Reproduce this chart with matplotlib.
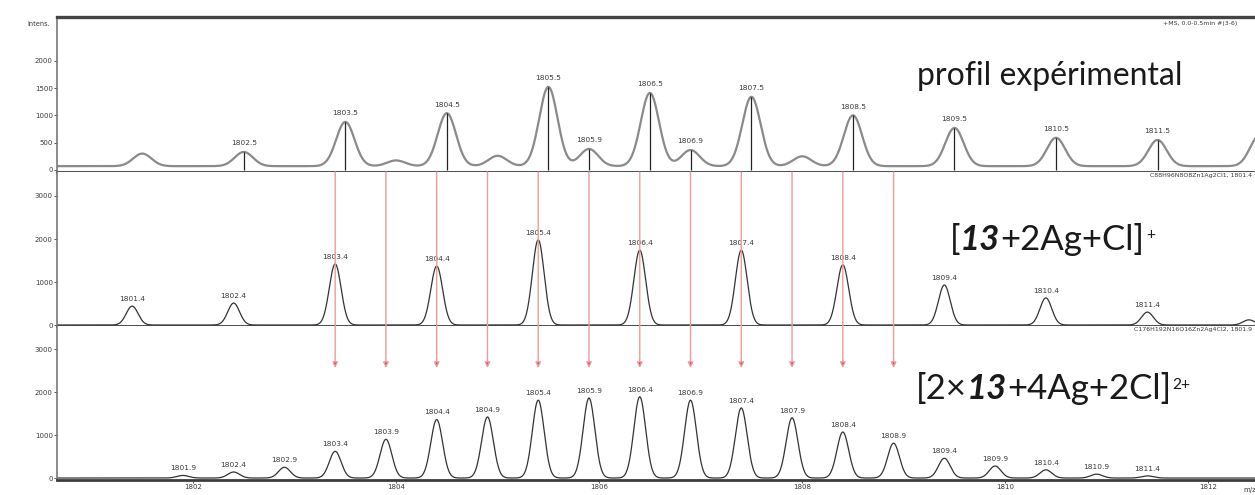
import numpy as np
import matplotlib.pyplot as plt

# measured profile: labelled maxima
exp_mz = [1802.5, 1803.5, 1804.5, 1805.5, 1805.9, 1806.5, 1806.9, 1807.5,
          1808.5, 1809.5, 1810.5, 1811.5]
exp_int = [330, 880, 1040, 1520, 385, 1410, 365, 1340, 1000, 770, 590, 550]
# measured profile: unlabelled shoulders
bump_mz = [1801.5, 1804.0, 1805.0, 1808.0, 1812.5]
bump_int = [300, 175, 260, 250, 620]
exp_base = 70

# simulated [13+2Ag+Cl]+
mono_mz = [1801.4, 1802.4, 1803.4, 1804.4, 1805.4, 1806.4, 1807.4, 1808.4,
           1809.4, 1810.4, 1811.4, 1812.4]
mono_int = [440, 510, 1420, 1370, 1980, 1740, 1740, 1400, 930, 630, 300, 120]

# simulated [2x13+4Ag+2Cl]2+
dim_mz = [1801.9, 1802.4, 1802.9, 1803.4, 1803.9, 1804.4, 1804.9, 1805.4,
          1805.9, 1806.4, 1806.9, 1807.4, 1807.9, 1808.4, 1808.9, 1809.4,
          1809.9, 1810.4, 1810.9, 1811.4]
dim_int = [60, 140, 250, 620, 900, 1360, 1420, 1810, 1860, 1890, 1810, 1630,
           1400, 1070, 810, 460, 280, 190, 90, 50]

# peaks shared by the two charge states
arrow_mz = [1803.4, 1803.9, 1804.4, 1804.9, 1805.4, 1805.9, 1806.4, 1806.9,
            1807.4, 1807.9, 1808.4, 1808.9]

xticks = [1802, 1804, 1806, 1808, 1810, 1812]

TXT = '#3a3a3a'
XMIN, XMAX = 1800.66, 1812.46


def profile(x, centers, heights, sigma, base=0.0):
    y = np.full_like(x, base)
    for c, h in zip(centers, heights):
        y += (h - base) * np.exp(-0.5 * ((x - c) / sigma) ** 2)
    return y


def style_axis(ax, ylim, yticks):
    ax.set_xlim(XMIN, XMAX)
    ax.set_ylim(*ylim)
    ax.set_yticks(yticks)
    ax.set_xticks([])
    ax.tick_params(axis='y', labelsize=5, length=2, width=0.6, pad=1,
                   colors=TXT)
    for s in ('top', 'right'):
        ax.spines[s].set_visible(False)
    ax.spines['left'].set_color('#777777')
    ax.spines['left'].set_linewidth(1.2)
    ax.spines['bottom'].set_color('#3c3c3c')
    ax.spines['bottom'].set_linewidth(2.0)


def peak_labels(ax, mz, heights, dy=3):
    for m, h in zip(mz, heights):
        ax.annotate(f'{m:.1f}', xy=(m, h), xytext=(0, dy),
                    textcoords='offset points', ha='center', va='bottom',
                    fontsize=5.3, color=TXT)


def formula(ax, x, y, parts, size):
    first, rest = parts[0], parts[1:]
    prev = ax.text(x, y, first, transform=ax.transAxes, fontsize=size,
                   family='Lato', color='#1a1a1a', va='center', ha='left')
    for s, kind in rest:
        if kind == 'sup':
            prev = ax.annotate(s, xy=(1, 1), xycoords=prev, xytext=(1, -4),
                               textcoords='offset points', va='top',
                               ha='left', fontsize=size * 0.45, family='Lato',
                               color='#1a1a1a')
            continue
        kw = dict(fontweight='bold', fontstyle='italic') if kind == 'bi' else {}
        prev = ax.annotate(s, xy=(1, 0), xycoords=prev, va='bottom',
                           ha='left', fontsize=size, family='Lato',
                           color='#1a1a1a', **kw)


x = np.linspace(XMIN, XMAX, 5000)

fig = plt.figure(figsize=(12.55, 4.95), dpi=100)
L = 57 / 1255
ax1 = fig.add_axes([L, 1 - 172 / 495, 1 - L, 155 / 495])
ax2 = fig.add_axes([L, 1 - 326 / 495, 1 - L, 154 / 495])
ax3 = fig.add_axes([L, 1 - 480 / 495, 1 - L, 154 / 495])

# experimental spectrum
y_exp = profile(x, exp_mz + bump_mz, exp_int + bump_int, 0.09, exp_base)
ax1.plot(x, y_exp, color='#8a8a8a', lw=1.6)
ax1.vlines(exp_mz, 0, exp_int, color='#222222', lw=0.9)
peak_labels(ax1, exp_mz, exp_int, dy=4)
style_axis(ax1, (-37, 2800), [0, 500, 1000, 1500, 2000])
ax1.spines['top'].set_visible(True)
ax1.spines['top'].set_color('#444444')
ax1.spines['top'].set_linewidth(2.4)
ax1.text(0.985, 0.955, '+MS, 0.0-0.5min #(3-6)', transform=ax1.transAxes,
         fontsize=4.5, color=TXT, ha='right', va='center')
ax1.text(0.718, 0.62, 'profil expérimental', transform=ax1.transAxes,
         fontsize=23, family='Lato', color='#1a1a1a', va='center')
fig.text(50 / 1255, 1 - 24 / 495, 'Intens.', fontsize=4.8, color=TXT,
         ha='right', va='center')

# simulated monomer pattern
y_mono = profile(x, mono_mz, mono_int, 0.058)
ax2.plot(x, y_mono, color='#333333', lw=0.9)
peak_labels(ax2, mono_mz[:-1], mono_int[:-1])
style_axis(ax2, (-23, 3558), [0, 1000, 2000, 3000])
ax2.text(0.998, 0.975, 'C88H96N8O8Zn1Ag2Cl1, 1801.4', transform=ax2.transAxes,
         fontsize=4.5, color=TXT, ha='right', va='center')
formula(ax2, 0.745, 0.56, ['[', ('13', 'bi'), ('+2Ag+Cl]', None),
                           ('+', 'sup')], 25)

# simulated dimer pattern
y_dim = profile(x, dim_mz, dim_int, 0.058)
ax3.plot(x, y_dim, color='#333333', lw=0.9)
peak_labels(ax3, dim_mz, dim_int)
style_axis(ax3, (-46, 3535), [0, 1000, 2000, 3000])
ax3.set_xticks(xticks)
ax3.tick_params(axis='x', labelsize=5, length=2, width=0.6, pad=1,
                colors=TXT)
ax3.text(0.998, 0.975, 'C176H192N16O16Zn2Ag4Cl2, 1801.9',
         transform=ax3.transAxes, fontsize=4.5, color=TXT, ha='right',
         va='center')
ax3.text(0.99, -0.065, 'm/z', transform=ax3.transAxes, fontsize=5,
         color=TXT, ha='left', va='center')
formula(ax3, 0.717, 0.59, ['[2×', ('13', 'bi'), ('+4Ag+2Cl]', None),
                           ('2+', 'sup')], 25)

# arrows linking the two simulated patterns
for m in arrow_mz:
    ax3.annotate('', xy=(m, 2560), xycoords='data',
                 xytext=(m, 1.0), textcoords=ax2.get_xaxis_transform(),
                 arrowprops=dict(arrowstyle='-|>', fc='#e23b3b',
                                 ec='#f09a9a', lw=1.0, mutation_scale=8,
                                 shrinkA=0, shrinkB=0))

fig.savefig('out.png', dpi=100)
